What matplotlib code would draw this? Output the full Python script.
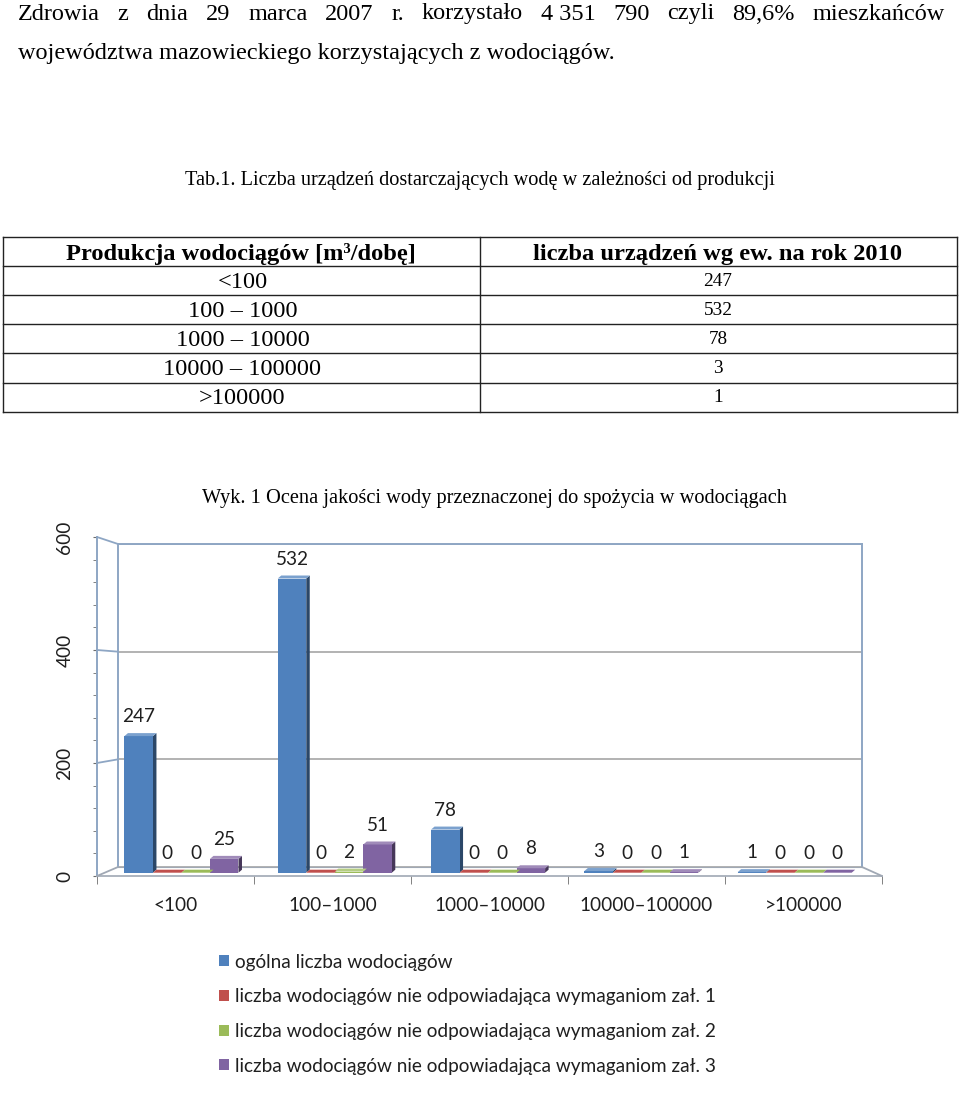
import matplotlib
matplotlib.use('Agg')
import matplotlib.pyplot as plt
from matplotlib.patches import Polygon, ConnectionPatch, Patch
from matplotlib.lines import Line2D
from matplotlib.ticker import MultipleLocator, FixedLocator
import matplotlib.colors as mcolors

# ---------------- data ----------------
categories = ['<100', '100–1000', '1000–10000', '10000–100000', '>100000']
table_ranges = ['<100', '100 – 1000', '1000 – 10000', '10000 – 100000', '>100000']
table_counts = [247, 532, 78, 3, 1]
total_count = [247, 532, 78, 3, 1]
fail_zal1 = [0, 0, 0, 0, 0]
fail_zal2 = [0, 2, 0, 0, 0]
fail_zal3 = [25, 51, 8, 1, 0]
series_labels = ['ogólna liczba wodociągów',
                 'liczba wodociągów nie odpowiadająca wymaganiom zał. 1',
                 'liczba wodociągów nie odpowiadająca wymaganiom zał. 2',
                 'liczba wodociągów nie odpowiadająca wymaganiom zał. 3']
series_colors = ['#4f81bd', '#c0504d', '#9bbb59', '#8064a2']
y_ticks = [0, 200, 400, 600]

para_line1 = ['Zdrowia', 'z', 'dnia', '29', 'marca', '2007', 'r.', 'korzystało',
              '4 351', '790', 'czyli', '89,6%', 'mieszkańców']
para_line2 = 'województwa mazowieckiego korzystających z wodociągów.'
table_caption = 'Tab.1. Liczba urządzeń dostarczających wodę w zależności od produkcji'
table_header = ['Produkcja wodociągów [m³/dobę]', 'liczba urządzeń wg ew. na rok 2010']
chart_caption = 'Wyk. 1 Ocena jakości wody przeznaczonej do spożycia w wodociągach'

# ---------------- figure ----------------
W, H = 960, 1094
fig = plt.figure(figsize=(W / 100, H / 100), dpi=100)
renderer = fig.canvas.get_renderer()


def fx(x):
    return x / W


def fy(y):
    return 1 - y / H


SERIF = 'Liberation Serif'
SANS = 'Lato'
CFS = 13.7


def fit_text(x, y, s, width, size0=14, **kw):
    t = fig.text(fx(x), fy(y), s, fontsize=size0, **kw)
    bb = t.get_window_extent(renderer)
    t.set_fontsize(size0 * width / bb.width)
    return t


# paragraph
t2 = fit_text(18, 59, para_line2, 600, family=SERIF, ha='left', va='baseline')
fs_par = t2.get_fontsize()
widths = []
for w_ in para_line1:
    tt = fig.text(0, 0, w_, fontsize=fs_par, family=SERIF)
    widths.append(tt.get_window_extent(renderer).width)
    tt.remove()
gap = (945 - 18 - sum(widths)) / (len(para_line1) - 1)
xpos = 18
for w_, wd in zip(para_line1, widths):
    fig.text(fx(xpos), fy(19.5), w_, fontsize=fs_par, family=SERIF, ha='left', va='baseline')
    xpos += wd + gap

# table caption
fit_text(185, 185, table_caption, 593, family=SERIF, ha='left', va='baseline')

# table
row_lines = [237, 266, 295, 324, 353, 382.5, 411.5]
for yl in row_lines:
    fig.add_artist(Line2D([fx(3), fx(957)], [fy(yl), fy(yl)], color='#222222', lw=1.0))
for xl in [3, 480, 957]:
    fig.add_artist(Line2D([fx(xl), fx(xl)], [fy(row_lines[0]), fy(row_lines[-1])],
                          color='#222222', lw=1.0))
fit_text(66, 260, table_header[0], 351, family=SERIF, weight='bold', ha='left', va='baseline')
fit_text(533, 260, table_header[1], 370, family=SERIF, weight='bold', ha='left', va='baseline')
tr = fit_text(242.5, 290, table_ranges[3], 159, family=SERIF, ha='center', va='baseline')
fs_rng = tr.get_fontsize()
tr.remove()
tn = fit_text(718, 289, '532', 29, family=SERIF, ha='center', va='baseline')
fs_num = tn.get_fontsize()
tn.remove()
for i, (rg, cnt) in enumerate(zip(table_ranges, table_counts)):
    ymid = (row_lines[i + 1] + row_lines[i + 2]) / 2
    fig.text(fx(242.5), fy(ymid + 7.5), rg, fontsize=fs_rng, family=SERIF,
             ha='center', va='baseline')
    fig.text(fx(718), fy(ymid + 5.5), str(cnt), fontsize=fs_num, family=SERIF,
             ha='center', va='baseline')

# chart caption
fit_text(202, 503, chart_caption, 588, family=SERIF, ha='left', va='baseline')

# ---------------- chart ----------------
WALL = '#8ea6c4'
GRID = '#a5a5a5'
TXT = '#1f1f1f'
pitch = 153.3
XL = -0.414
XR = XL + (862 - 118) / pitch

# back wall
ax_back = fig.add_axes([fx(118), fy(867), (862 - 118) / W, (867 - 544) / H])
ax_back.set_xlim(XL, XR)
ax_back.set_ylim(0, 600)
ax_back.set_xticks([])
ax_back.yaxis.set_major_locator(FixedLocator(y_ticks))
ax_back.tick_params(axis='y', length=0, labelleft=False)
ax_back.grid(axis='y', color=GRID, lw=1.2)
for s in ['left', 'right', 'top']:
    ax_back.spines[s].set_color(WALL)
    ax_back.spines[s].set_linewidth(1.4)
ax_back.spines['bottom'].set_color('#a0a8b4')
ax_back.set_facecolor('white')

# front axis frame
ax_front = fig.add_axes([fx(97), fy(876), (882 - 97) / W, (876 - 537) / H])
ax_front.set_xlim(-0.5, len(categories) - 0.5)
ax_front.set_ylim(0, 600)
ax_front.patch.set_visible(False)
for s in ['top', 'right']:
    ax_front.spines[s].set_visible(False)
ax_front.spines['left'].set_color(WALL)
ax_front.spines['left'].set_linewidth(1.4)
ax_front.spines['bottom'].set_color('#a0a8b4')
ax_front.spines['bottom'].set_linewidth(1.2)
ax_front.yaxis.set_major_locator(FixedLocator(y_ticks))
ax_front.yaxis.set_minor_locator(MultipleLocator(40))
ax_front.set_yticklabels([str(v) for v in y_ticks], rotation=90, va='center',
                         family=SANS, fontsize=CFS, color=TXT)
ax_front.tick_params(axis='y', which='both', direction='out', length=3,
                     color='#6d6d6d', pad=14)
ax_front.set_xticks(range(len(categories)))
ax_front.set_xticklabels(categories, family=SANS, fontsize=CFS, color=TXT)
ax_front.xaxis.set_minor_locator(FixedLocator([i - 0.5 for i in range(len(categories) + 1)]))
ax_front.tick_params(axis='x', which='major', length=0, pad=15)
ax_front.tick_params(axis='x', which='minor', direction='out', length=5.5, color='#6d6d6d')

# connectors front -> back
for v in y_ticks:
    cp = ConnectionPatch(xyA=(-0.5, v), coordsA=ax_front.transData,
                         xyB=(XL, v), coordsB=ax_back.transData,
                         color=WALL if v > 0 else '#a0a8b4', lw=1.3)
    fig.add_artist(cp)
cp = ConnectionPatch(xyA=(len(categories) - 0.5, 0), coordsA=ax_front.transData,
                     xyB=(XR, 0), coordsB=ax_back.transData, color='#a0a8b4', lw=1.3)
fig.add_artist(cp)

# bars
ax_bars = fig.add_axes([fx(118), fy(872.7), (862 - 118) / W, (872.7 - 540.9) / H])
ax_bars.set_xlim(XL, XR)
ax_bars.set_ylim(0, 600)
ax_bars.axis('off')
ax_bars.patch.set_visible(False)

bw = 0.186
ddx = 3.5 / pitch
ddy = 3.0 / 0.553
series = [total_count, fail_zal1, fail_zal2, fail_zal3]


def shade(c, f):
    r, g, b = mcolors.to_rgb(c)
    if f < 1:
        return (r * f, g * f, b * f)
    return (r + (1 - r) * (f - 1), g + (1 - g) * (f - 1), b + (1 - b) * (f - 1))


handles = []
for j, (vals, col, lab) in enumerate(zip(series, series_colors, series_labels)):
    xs = [i + (j - 1.5) * bw for i in range(len(categories))]
    bars = ax_bars.bar(xs, vals, width=bw, color=col, edgecolor='none', zorder=3)
    for rect, v in zip(bars, vals):
        x0, w = rect.get_x(), rect.get_width()
        side = Polygon([(x0 + w, 0), (x0 + w + ddx, ddy), (x0 + w + ddx, v + ddy), (x0 + w, v)],
                       closed=True, facecolor=shade(col, 0.55), edgecolor='none', zorder=2)
        top = Polygon([(x0, v), (x0 + w, v), (x0 + w + ddx, v + ddy), (x0 + ddx, v + ddy)],
                      closed=True, facecolor=shade(col, 1.25) if v > 0 else col,
                      edgecolor='none', zorder=4)
        ax_bars.add_patch(side)
        ax_bars.add_patch(top)
        ax_bars.annotate(str(v), (x0 + w / 2, v), xytext=(0, 14), textcoords='offset points',
                         ha='center', va='center', family=SANS, fontsize=CFS, color=TXT,
                         annotation_clip=False, zorder=5)
    handles.append(Patch(facecolor=col, edgecolor='none', label=lab))

# legend
fig.legend(handles=handles, loc='upper left', bbox_to_anchor=(fx(211), fy(946)),
           frameon=False, prop={'family': SANS, 'size': CFS},
           handlelength=0.52, handleheight=0.52, handletextpad=0.35,
           labelspacing=0.93, borderaxespad=0)
for t in fig.legends[0].get_texts():
    t.set_color(TXT)

fig.savefig('out.png', dpi=100)
